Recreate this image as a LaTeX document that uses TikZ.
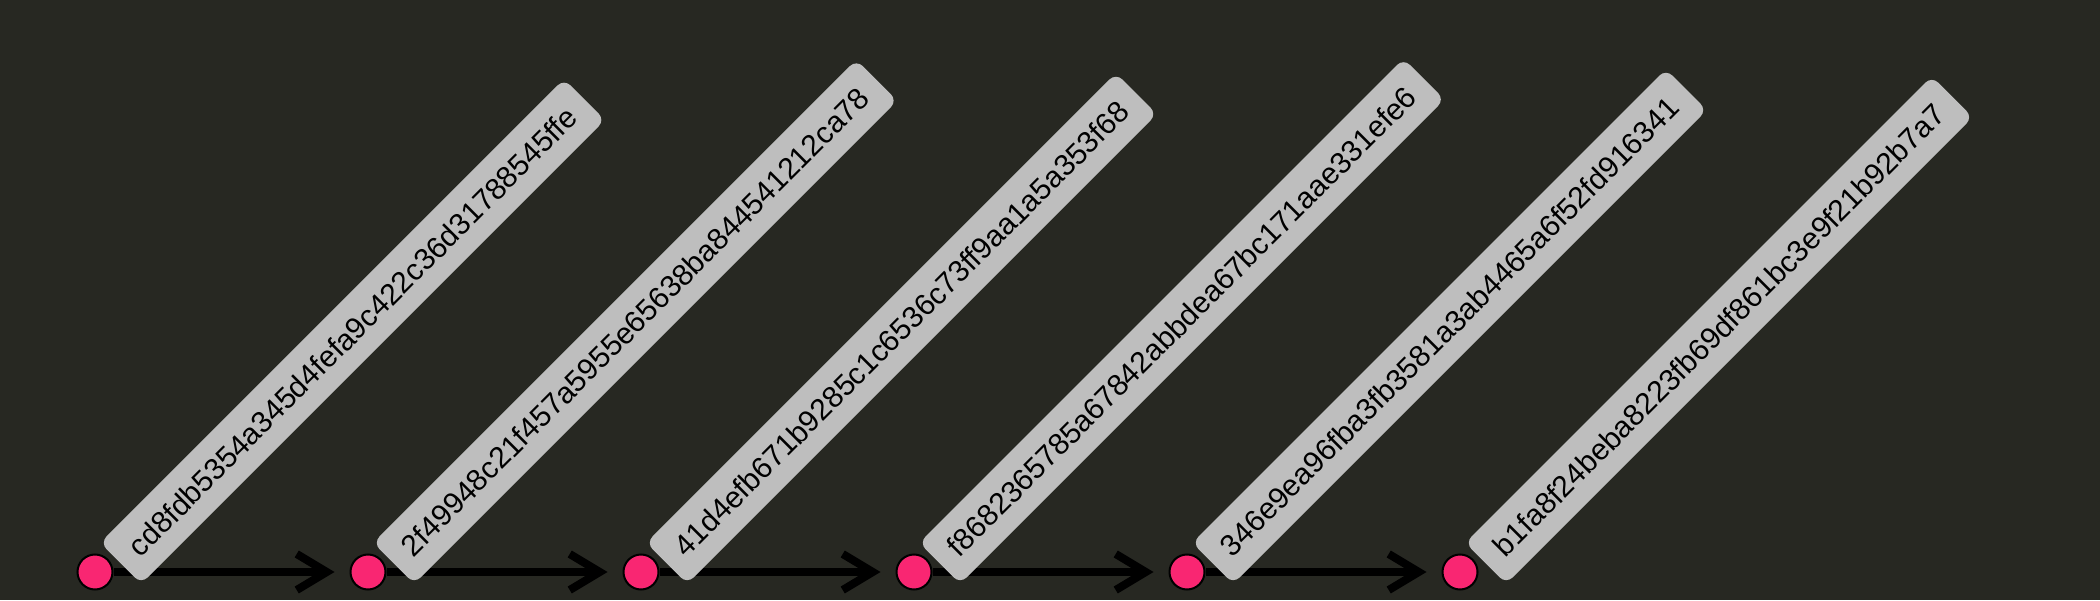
\documentclass[tikz,border=0pt]{standalone}
\usepackage{fontspec}
\setmainfont{Liberation Sans}
\usetikzlibrary{arrows.meta}
\definecolor{bgcol}{HTML}{272822}
\definecolor{commitpink}{HTML}{F92672}
\definecolor{lblgray}{HTML}{BEBEBE}
\begin{document}
\begin{tikzpicture}[x=1pt,y=1pt,
  commit/.style={circle, fill=commitpink, draw=black, line width=2pt, minimum size=35pt, inner sep=0pt},
  conn/.style={draw=black, line width=8pt, -{Straight Barb[length=30pt,width=36pt,sharp]}, shorten >=15pt},
  hashlabel/.style={rotate=45, anchor=west, fill=lblgray, rounded corners=9pt, inner xsep=18pt, inner ysep=0pt, minimum height=58pt, text=black, font=\fontsize{30}{36}\selectfont}]
\fill[bgcol] (0,0) rectangle (2100,600);
\useasboundingbox (0,0) rectangle (2100,600);
\node[commit] (c1) at (95,28) {};
\node[commit] (c2) at (368,28) {};
\node[commit] (c3) at (641,28) {};
\node[commit] (c4) at (914,28) {};
\node[commit] (c5) at (1187,28) {};
\node[commit] (c6) at (1460,28) {};
\draw[conn] (c1) -- (c2);
\draw[conn] (c2) -- (c3);
\draw[conn] (c3) -- (c4);
\draw[conn] (c4) -- (c5);
\draw[conn] (c5) -- (c6);
\node[hashlabel] (l1) at (120.5,36.5) {cd8fdb5354a345d4fefa9c422c36d31788545ffe};
\node[hashlabel] (l2) at (393.5,36.5) {2f49948c21f457a5955e65638ba844541212ca78};
\node[hashlabel] (l3) at (666.5,36.5) {41d4efb671b9285c1c6536c73ff9aa1a5a353f68};
\node[hashlabel] (l4) at (939.5,36.5) {f8682365785a67842abbdea67bc171aae331efe6};
\node[hashlabel] (l5) at (1212.5,36.5) {346e9ea96fba3fb3581a3ab4465a6f52fd916341};
\node[hashlabel] (l6) at (1485.5,36.5) {b1fa8f24beba8223fb69df861bc3e9f21b92b7a7};
\end{tikzpicture}
\end{document}
